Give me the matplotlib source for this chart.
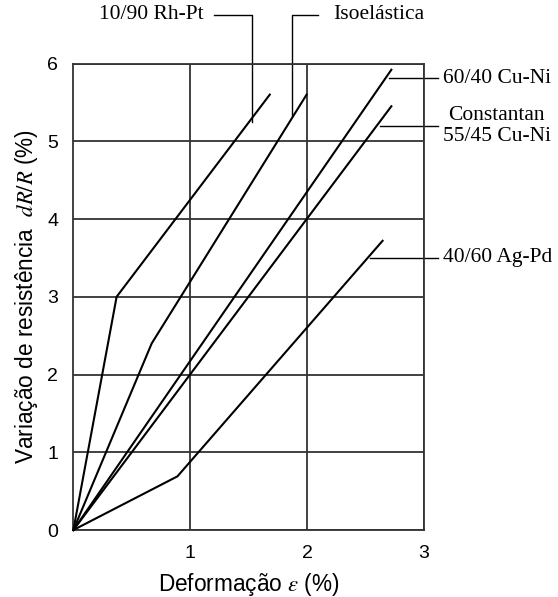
import numpy as np
import matplotlib
matplotlib.use("Agg")
from matplotlib import pyplot as plt

plt.rcParams['font.family'] = ['Liberation Sans', 'DejaVu Sans']
plt.rcParams['mathtext.fontset'] = 'stix'

# curves: (strain %, dR/R %) break points
rhpt_x = [0, 0.37, 1.68]
rhpt_y = [0, 3.0, 5.6]
iso_x = [0, 0.67, 1.995]
iso_y = [0, 2.4, 5.6]
cuni_x = [0, 2.72]
cuni_y = [0, 5.92]
const_x = [0, 2.72]
const_y = [0, 5.45]
agpd_x = [0, 0.89, 2.645]
agpd_y = [0, 0.69, 3.72]

# labels and where their leaders touch the curves
labels = ["10/90 Rh-Pt", "Isoelástica", "60/40 Cu-Ni", "Constantan\n55/45 Cu-Ni", "40/60 Ag-Pd"]
anchor_x = [1.527, 1.867, 2.70, 2.62, 2.54]
anchor_y = [5.25, 5.32, 5.81, 5.20, 3.50]

fig = plt.figure(figsize=(5.58, 5.97), dpi=100)
ax = fig.add_axes([0.1315, 0.1122, 0.6285, 0.7814])

ax.set_xlim(0, 3)
ax.set_ylim(0, 6)
ax.set_xticks([1, 2, 3])
ax.set_yticks(range(7))
ax.grid(True, color='#333333', linewidth=1.3)
ax.tick_params(length=0, labelsize=14, pad=11)
for s in ax.spines.values():
    s.set_linewidth(1.3)
    s.set_color('#333333')

for xs, ys in [(rhpt_x, rhpt_y), (iso_x, iso_y), (cuni_x, cuni_y),
               (const_x, const_y), (agpd_x, agpd_y)]:
    ax.plot(xs, ys, color='black', linewidth=1.5, clip_on=False, zorder=3)

ax.set_xlabel("Deformação $\\varepsilon$ (%)", fontsize=16.3, labelpad=6)
ax.set_ylabel("Variação de resistência  $dR/R$ (%)", fontsize=16.3, labelpad=5)

serif = ['Liberation Serif', 'DejaVu Serif']
fs = 15.5
lk = dict(color='black', linewidth=1.0, clip_on=False)
top = 6.63

# 10/90 Rh-Pt: leader goes up then left
ax.plot([anchor_x[0], anchor_x[0], 1.205], [anchor_y[0], top, top], **lk)
ax.text(1.11, top, labels[0], family=serif, fontsize=fs, ha='right', va='center')

# Isoelastica: leader goes up then right
ax.plot([anchor_x[1], anchor_x[1], 2.09], [anchor_y[1], top, top], **lk)
ax.text(2.22, top, labels[1], family=serif, fontsize=fs, ha='left', va='center')

# right-hand labels
xr = 3.12
for i in [2, 3, 4]:
    ax.plot([anchor_x[i], xr], [anchor_y[i], anchor_y[i]], **lk)
ax.text(3.16, anchor_y[2], labels[2], family=serif, fontsize=fs, ha='left', va='center')
ax.text(3.62, anchor_y[3], labels[3], family=serif, fontsize=fs, ha='center', va='center',
        linespacing=1.15)
ax.text(3.16, anchor_y[4], labels[4], family=serif, fontsize=fs, ha='left', va='center')

fig.savefig("out.png", dpi=100)
